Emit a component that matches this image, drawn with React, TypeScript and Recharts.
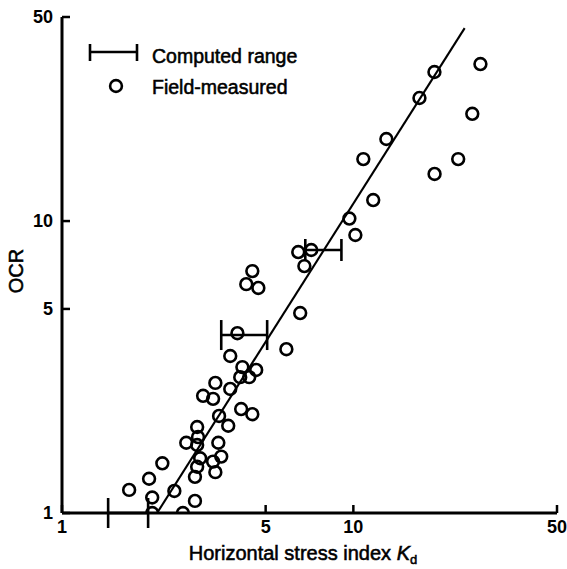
import React from 'react';
import { ScatterChart, Scatter, XAxis, YAxis, ReferenceLine, ErrorBar } from 'recharts';

const xTicks = [1, 5, 10, 50];
const yTicks = [1, 5, 10, 50];

// Field-measured points: horizontal stress index Kd and OCR
const kdValues = [18.98, 27.3, 16.86, 25.6, 12.98, 10.82, 22.9, 19.0, 11.7, 9.69, 10.16, 6.47, 7.17, 6.79, 4.5, 4.29, 4.72, 6.57, 4.0, 5.89, 3.78, 4.16, 4.64, 4.09, 4.39, 3.36, 3.78, 3.05, 3.3, 4.12, 4.5, 3.46, 3.72, 2.91, 2.93, 2.67, 2.91, 3.44, 2.98, 3.52, 3.3, 2.21, 2.91, 3.36, 2.86, 1.7, 1.99, 2.04, 2.04, 2.43, 2.6, 2.86];
const ocrValues = [32.4, 34.5, 26.4, 23.3, 19.1, 16.3, 16.3, 14.5, 11.8, 10.2, 8.96, 7.83, 7.96, 7.01, 6.74, 6.08, 5.9, 4.84, 4.13, 3.64, 3.45, 3.16, 3.09, 2.92, 2.92, 2.79, 2.66, 2.52, 2.46, 2.27, 2.18, 2.15, 1.99, 1.97, 1.82, 1.74, 1.71, 1.74, 1.54, 1.56, 1.5, 1.48, 1.44, 1.38, 1.33, 1.2, 1.31, 1.13, 1.0, 1.19, 1.0, 1.1];

// Fitted line end points
const fitKd = [2.12, 24.1];
const fitOcr = [1, 45.8];

// Computed ranges
const rangeKdLow = [1.44, 3.52, 6.84];
const rangeKdHigh = [1.975, 5.06, 9.1];
const rangeOcr = [1, 4.07, 7.96];

const measured = kdValues.map((x, i) => ({ x, y: ocrValues[i] }));
const ranges = rangeKdLow.map((lo, i) => {
  const hi = rangeKdHigh[i];
  const c = (lo + hi) / 2;
  return { x: c, y: rangeOcr[i], err: [c - lo, hi - c] };
});
const rangesLower = ranges.slice(0, 2);
const rangesUpper = ranges.slice(2);

const FONT = '"Liberation Sans", Arial, Helvetica, sans-serif';

const Ring = (props: any) => (
  <circle cx={props.cx} cy={props.cy} r={5.9} fill="none" stroke="#000" strokeWidth={2.6} />
);
const Hidden = () => <g />;

const tickStyle = { fill: '#000', fontSize: 18, fontWeight: 700, fontFamily: FONT };
const titleProps = { fontFamily: FONT, fill: '#000', stroke: '#000', strokeWidth: 0.55 };

export default function App() {
  return (
    <div style={{ position: 'absolute', left: 0, top: 0, width: 567, height: 569, background: '#fff' }}>
      <ScatterChart width={567} height={569} margin={{ top: 17, right: 10, bottom: 0, left: 2 }}>
        <XAxis
          type="number"
          dataKey="x"
          scale="log"
          domain={[1, 50]}
          ticks={xTicks}
          allowDataOverflow
          height={56}
          axisLine={{ stroke: '#000', strokeWidth: 3 }}
          tickLine={{ stroke: '#000', strokeWidth: 2.5 }}
          tickSize={-8}
          tickMargin={15}
          tick={tickStyle}
          tickFormatter={(v: number) => String(v)}
          label={{
            content: () => (
              <text x={303} y={560} textAnchor="middle" fontSize={20} {...titleProps}>
                Horizontal stress index <tspan fontStyle="italic">K</tspan>
                <tspan fontSize={13} dy={4}>d</tspan>
              </text>
            ),
          }}
        />
        <YAxis
          type="number"
          dataKey="y"
          scale="log"
          domain={[1, 50]}
          ticks={yTicks}
          allowDataOverflow
          width={60}
          axisLine={{ stroke: '#000', strokeWidth: 3 }}
          tickLine={{ stroke: '#000', strokeWidth: 2.5 }}
          tickSize={-8}
          tickMargin={17}
          tick={tickStyle}
          tickFormatter={(v: number) => String(v)}
          label={{
            content: () => (
              <text transform="translate(23,271) rotate(-90)" textAnchor="middle" fontSize={20} {...titleProps}>
                OCR
              </text>
            ),
          }}
        />
        <ReferenceLine
          segment={[{ x: fitKd[0], y: fitOcr[0] }, { x: fitKd[1], y: fitOcr[1] }]}
          stroke="#000"
          strokeWidth={2.1}
          ifOverflow="visible"
        />
        <Scatter data={rangesLower} shape={Hidden} isAnimationActive={false}>
          <ErrorBar dataKey="err" direction="x" width={15} stroke="#000" strokeWidth={2.6} />
        </Scatter>
        <Scatter data={rangesUpper} shape={Hidden} isAnimationActive={false}>
          <ErrorBar dataKey="err" direction="x" width={11} stroke="#000" strokeWidth={2.6} />
        </Scatter>
        <Scatter data={measured} shape={Ring} isAnimationActive={false} />
      </ScatterChart>
      <svg width={567} height={110} style={{ position: 'absolute', left: 0, top: 0, pointerEvents: 'none' }}>
        <g stroke="#000" strokeWidth={2.6}>
          <line x1={90} y1={52} x2={137} y2={52} />
          <line x1={90} y1={44} x2={90} y2={61} />
          <line x1={137} y1={44} x2={137} y2={61} />
        </g>
        <text x={152} y={63} fontSize={19.5} {...titleProps}>Computed range</text>
        <circle cx={116} cy={86} r={5.9} fill="none" stroke="#000" strokeWidth={2.6} />
        <text x={152} y={94} fontSize={19.5} {...titleProps}>Field-measured</text>
      </svg>
    </div>
  );
}
